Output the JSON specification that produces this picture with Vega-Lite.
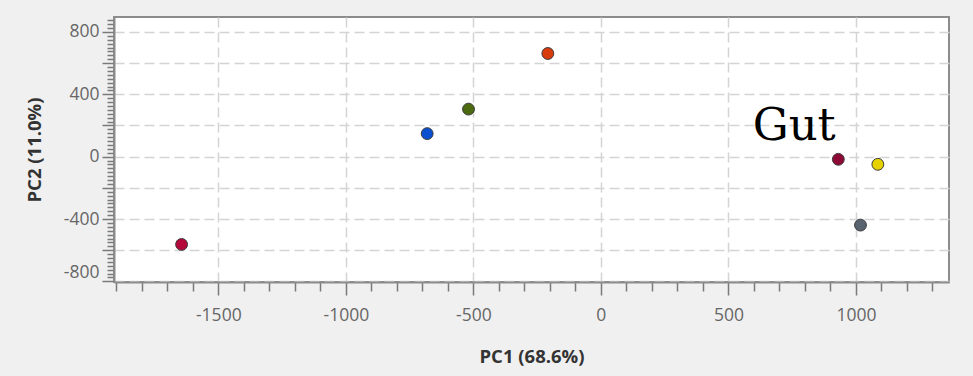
{
  "$schema": "https://vega.github.io/schema/vega-lite/v6.json",
  "width": 835,
  "height": 265,
  "autosize": {"type": "none"},
  "padding": {"left": 114, "top": 17, "right": 24, "bottom": 94},
  "background": "#f0f0f0",
  "view": {"fill": "white", "stroke": "#8c8c8c", "strokeWidth": 2},
  "datasets": {
    "points": [
      {"sample": "S1", "pc1": -1644, "pc2": -563},
      {"sample": "S2", "pc1": -681, "pc2": 148},
      {"sample": "S3", "pc1": -519, "pc2": 305},
      {"sample": "S4", "pc1": -208, "pc2": 662},
      {"sample": "S5", "pc1": 931, "pc2": -17},
      {"sample": "S6", "pc1": 1086, "pc2": -49},
      {"sample": "S7", "pc1": 1018, "pc2": -439}
    ],
    "labels": [
      {"label": "Gut", "pc1": 758, "pc2": 107}
    ]
  },
  "layer": [
    {
      "data": {"name": "points"},
      "mark": {"type": "circle", "size": 140, "opacity": 1, "stroke": "#3a3a3a", "strokeWidth": 1},
      "encoding": {
        "x": {
          "field": "pc1", "type": "quantitative",
          "scale": {"domain": [-1909, 1365], "nice": false, "zero": false},
          "axis": {
            "title": "PC1 (68.6%)",
            "values": [-1900,-1800,-1700,-1600,-1500,-1400,-1300,-1200,-1100,-1000,-900,-800,-700,-600,-500,-400,-300,-200,-100,0,100,200,300,400,500,600,700,800,900,1000,1100,1200,1300],
            "tickCount": 200,
            "labelExpr": "datum.value % 500 === 0 ? '' + datum.value : ''",
            "labelOverlap": false,
            "tickSize": {"condition": {"test": "datum.value % 500 === 0", "value": 13}, "value": 9},
            "gridOpacity": {"condition": {"test": "datum.value % 500 === 0", "value": 1}, "value": 0},
            "labelPadding": 11,
            "titlePadding": 24
          }
        },
        "y": {
          "field": "pc2", "type": "quantitative",
          "scale": {"domain": [-804, 896], "nice": false, "zero": false},
          "axis": {
            "title": "PC2 (11.0%)",
            "values": [-800,-775,-750,-725,-700,-675,-650,-625,-600,-575,-550,-525,-500,-475,-450,-425,-400,-375,-350,-325,-300,-275,-250,-225,-200,-175,-150,-125,-100,-75,-50,-25,0,25,50,75,100,125,150,175,200,225,250,275,300,325,350,375,400,425,450,475,500,525,550,575,600,625,650,675,700,725,750,775,800,825,850,875],
            "tickCount": 200,
            "labelExpr": "datum.value % 400 === 0 ? '' + datum.value : ''",
            "labelOverlap": false,
            "tickSize": {"condition": {"test": "datum.value % 200 === 0", "value": 12}, "value": 7},
            "gridOpacity": {"condition": {"test": "datum.value % 200 === 0", "value": 1}, "value": 0},
            "labelPadding": 3,
            "labelFlush": true,
            "titlePadding": 19
          }
        },
        "color": {
          "field": "sample", "type": "nominal", "legend": null,
          "scale": {
            "domain": ["S1","S2","S3","S4","S5","S6","S7"],
            "range": ["#b5083a","#0a4fd0","#4b6a10","#d83c0c","#8e0a36","#e6d200","#5a6370"]
          }
        }
      }
    },
    {
      "data": {"name": "labels"},
      "mark": {"type": "text", "font": "DejaVu Serif", "fontSize": 45, "align": "center", "baseline": "alphabetic", "color": "#000"},
      "encoding": {
        "x": {"field": "pc1", "type": "quantitative"},
        "y": {"field": "pc2", "type": "quantitative"},
        "text": {"field": "label"}
      }
    }
  ],
  "config": {
    "axis": {
      "labelFont": "Open Sans",
      "labelFontSize": 17.5,
      "labelColor": "#666666",
      "titleFont": "Open Sans",
      "titleFontSize": 18.5,
      "titleFontWeight": "bold",
      "titleColor": "#333333",
      "tickColor": "#7a7a7a",
      "tickWidth": 1.5,
      "domainColor": "#8c8c8c",
      "domainWidth": 2,
      "gridColor": "#d4d4d4",
      "gridDash": [10, 5],
      "gridWidth": 1.5
    }
  }
}
